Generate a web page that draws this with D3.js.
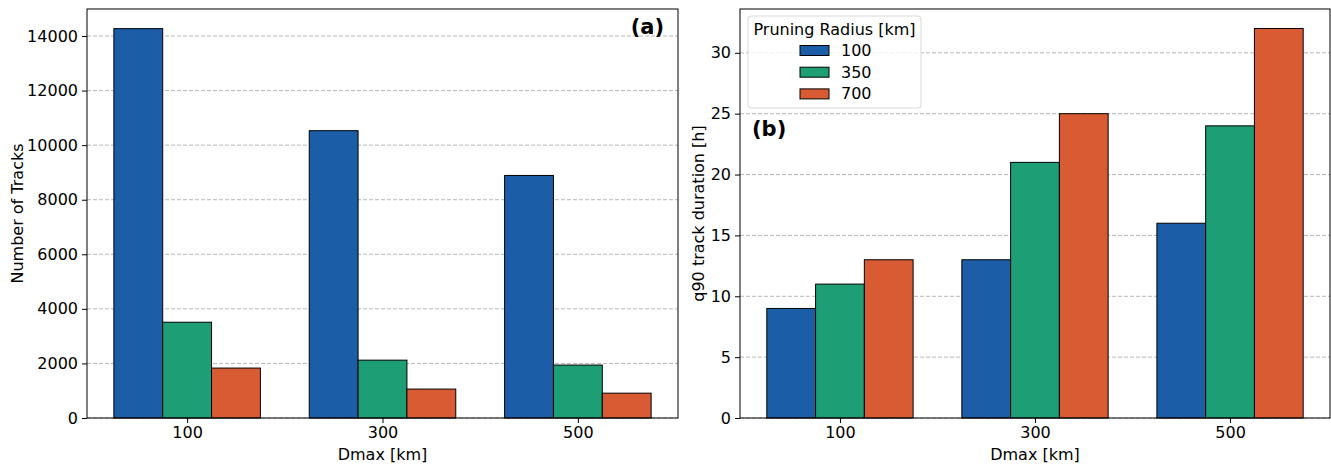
<!DOCTYPE html>
<html>
<head>
<meta charset="utf-8">
<script src="https://cdn.jsdelivr.net/npm/d3@7"></script>
<style>
  body { margin: 0; background: #fff; }
  svg { font-family: "DejaVu Sans", sans-serif; }
</style>
</head>
<body>
<svg id="chart" width="1331" height="466"></svg>
<script>
var dmax = ["100", "300", "500"];
var radii = ["100", "350", "700"];
var colors = ["#1b5ea7", "#1e9e74", "#d95b33"];

// Number of tracks, one array per pruning radius
var tracks100 = [14270, 10530, 8890];
var tracks350 = [3510, 2120, 1940];
var tracks700 = [1830, 1060, 910];

// q90 track duration [h]
var dur100 = [9, 13, 16];
var dur350 = [11, 21, 24];
var dur700 = [13, 25, 32];

var yTicksA = [0, 2000, 4000, 6000, 8000, 10000, 12000, 14000];
var yTicksB = [0, 5, 10, 15, 20, 25, 30];

var svg = d3.select("#chart");
var barW = 0.25;

function panel(opts) {
  var g = svg.append("g");
  var x = d3.scaleLinear().domain([-0.5125, 2.5125]).range([opts.left, opts.right]);
  var y = d3.scaleLinear().domain([0, opts.ymax]).range([418, 9]);

  // grid
  g.selectAll("line.grid").data(opts.yTicks).enter().append("line")
    .attr("x1", opts.left).attr("x2", opts.right)
    .attr("y1", function(d) { return y(d); }).attr("y2", function(d) { return y(d); })
    .attr("stroke", "#b0b0b0").attr("stroke-width", 0.9)
    .attr("stroke-dasharray", "4,2");

  // bars
  opts.series.forEach(function(s, i) {
    g.selectAll("rect.s" + i).data(s).enter().append("rect")
      .attr("x", function(d, j) { return x(j + (i - 1) * barW - barW / 2); })
      .attr("width", x(barW) - x(0))
      .attr("y", function(d) { return y(d); })
      .attr("height", function(d) { return y(0) - y(d); })
      .attr("fill", colors[i]).attr("stroke", "#000").attr("stroke-width", 1);
  });

  // axes
  var xAxis = d3.axisBottom(x).tickValues([0, 1, 2])
    .tickFormat(function(d) { return dmax[d]; }).tickSize(5).tickPadding(4);
  var yAxis = d3.axisLeft(y).tickValues(opts.yTicks).tickFormat(d3.format("d"))
    .tickSize(5).tickPadding(4);
  var gx = g.append("g").attr("transform", "translate(0,418)").call(xAxis);
  var gy = g.append("g").attr("transform", "translate(" + opts.left + ",0)").call(yAxis);
  [gx, gy].forEach(function(a) {
    a.attr("font-size", null).attr("font-family", null);
    a.select(".domain").remove();
    a.selectAll("text").attr("font-size", 16).attr("fill", "#000");
    a.selectAll("line").attr("stroke", "#000").attr("stroke-width", 1);
  });

  // frame
  g.append("rect").attr("x", opts.left).attr("y", 9)
    .attr("width", opts.right - opts.left).attr("height", 409)
    .attr("fill", "none").attr("stroke", "#000").attr("stroke-width", 1);

  // labels
  g.append("text").attr("x", (opts.left + opts.right) / 2).attr("y", 460)
    .attr("text-anchor", "middle").attr("font-size", 16).text("Dmax [km]");
  g.append("text")
    .attr("transform", "translate(" + opts.ylabX + "," + 213.5 + ")rotate(-90)")
    .attr("text-anchor", "middle").attr("font-size", 16).text(opts.ylabel);
  g.append("text").attr("x", opts.tagX).attr("y", opts.tagY)
    .attr("text-anchor", opts.tagAnchor).attr("font-size", 21).attr("font-weight", "bold")
    .text(opts.tag);
  return g;
}

panel({
  left: 87, right: 678, ymax: 14990, yTicks: yTicksA,
  series: [tracks100, tracks350, tracks700],
  ylabel: "Number of Tracks", ylabX: 23,
  tag: "(a)", tagX: 664, tagY: 34, tagAnchor: "end"
});

var gb = panel({
  left: 740, right: 1330, ymax: 33.6, yTicks: yTicksB,
  series: [dur100, dur350, dur700],
  ylabel: "q90 track duration [h]", ylabX: 704,
  tag: "(b)", tagX: 752, tagY: 136, tagAnchor: "start"
});

// legend
var leg = gb.append("g");
leg.append("rect").attr("x", 748).attr("y", 16).attr("width", 173).attr("height", 92)
  .attr("rx", 3).attr("fill", "#fff").attr("fill-opacity", 0.8)
  .attr("stroke", "#d9d9d9").attr("stroke-width", 1);
leg.append("text").attr("x", 834.5).attr("y", 35).attr("text-anchor", "middle")
  .attr("font-size", 16).text("Pruning Radius [km]");
radii.forEach(function(r, i) {
  leg.append("rect").attr("x", 800).attr("y", 45.5 + i * 21.7).attr("width", 29).attr("height", 10)
    .attr("fill", colors[i]).attr("stroke", "#000").attr("stroke-width", 1);
  leg.append("text").attr("x", 841).attr("y", 56 + i * 21.7)
    .attr("font-size", 16).text(r);
});
</script>
</body>
</html>
